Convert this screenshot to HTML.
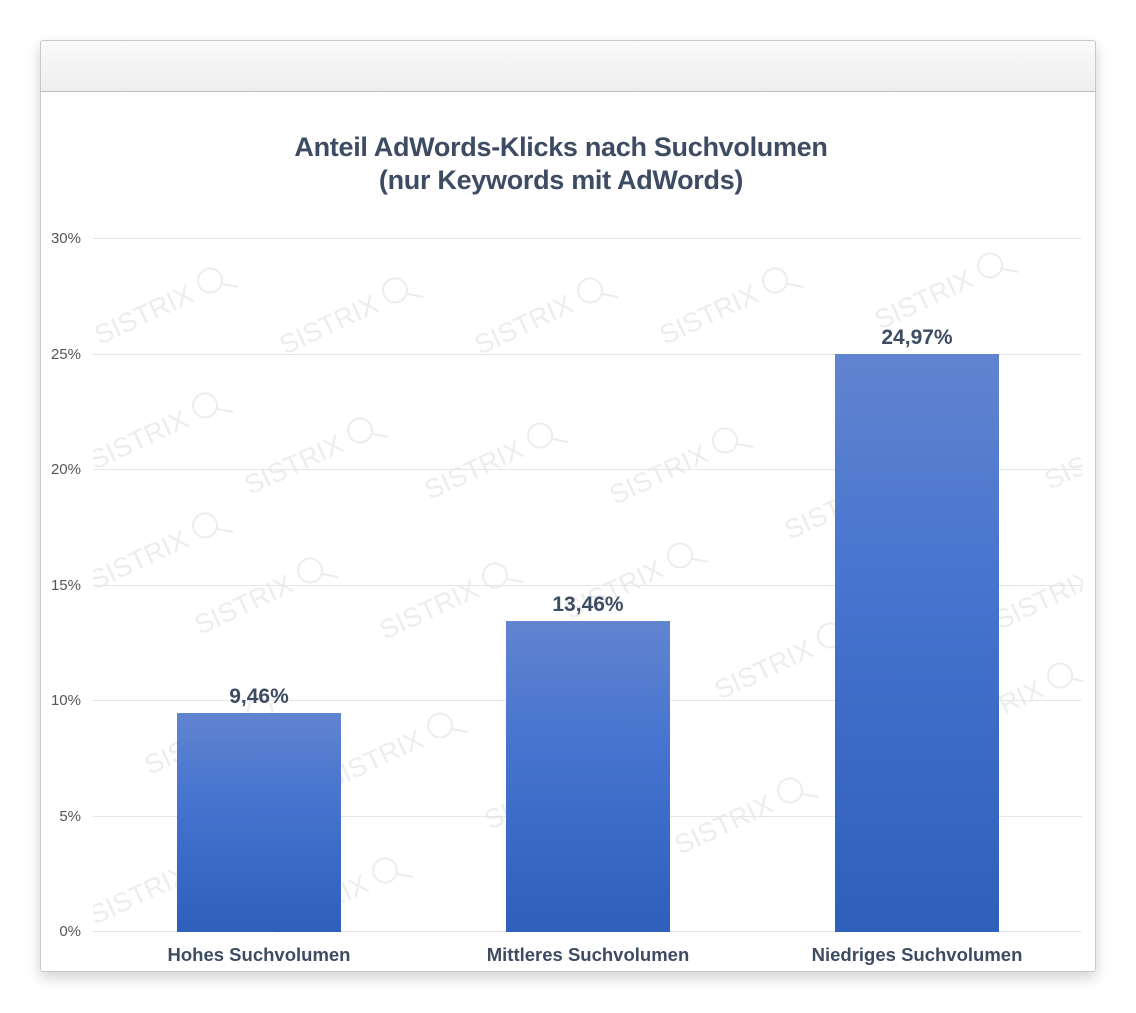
<!DOCTYPE html>
<html><head><meta charset="utf-8"><style>
body{margin:0;width:1136px;height:1013px;background:#fff;font-family:"Liberation Sans",Arial,sans-serif;}
.card{position:absolute;left:40px;top:40px;width:1054px;height:930px;border:1px solid #c8c8c8;border-radius:3px;box-shadow:0 6px 14px rgba(0,0,0,0.18);background:#fff;overflow:hidden}
.hdr{height:50px;border-bottom:1px solid #bdbdbd;background:linear-gradient(#fafafa,#eeeeee)}
svg{position:absolute;left:0;top:0}
</style></head><body>
<div class="card"><div class="hdr"></div></div>
<svg width="1136" height="1013" font-family="Liberation Sans, Arial, sans-serif">
<defs>
<linearGradient id="g" x1="0" y1="0" x2="0" y2="1"><stop offset="0" stop-color="#6184cf"/><stop offset="0.4" stop-color="#4674cf"/><stop offset="1" stop-color="#2d5fbb"/></linearGradient>
<clipPath id="c"><rect x="93" y="230" width="990" height="710"/></clipPath>
<g id="w"><text font-size="27" fill="#ededed">SISTRIX</text><circle cx="127" cy="-12" r="12" fill="none" stroke="#ededed" stroke-width="2"/><line x1="136" y1="-4" x2="150" y2="6" stroke="#ededed" stroke-width="2"/></g>
</defs>
<g clip-path="url(#c)" id="wm"></g>
<text x="561" y="156" text-anchor="middle" font-size="27" font-weight="bold" fill="#3d4c63" letter-spacing="-0.3">Anteil AdWords-Klicks nach Suchvolumen</text>
<text x="561" y="189" text-anchor="middle" font-size="27" font-weight="bold" fill="#3d4c63" letter-spacing="-0.3">(nur Keywords mit AdWords)</text>
<g stroke="#e4e6ea" stroke-width="1">
<line x1="93" y1="238.5" x2="1082" y2="238.5"/><line x1="93" y1="354.5" x2="1082" y2="354.5"/><line x1="93" y1="469.5" x2="1082" y2="469.5"/><line x1="93" y1="585.5" x2="1082" y2="585.5"/><line x1="93" y1="700.5" x2="1082" y2="700.5"/><line x1="93" y1="816.5" x2="1082" y2="816.5"/><line x1="93" y1="931.5" x2="1082" y2="931.5"/>
</g>
<g font-size="15" fill="#555" text-anchor="end">
<text x="81" y="243">30%</text><text x="81" y="359">25%</text><text x="81" y="474">20%</text><text x="81" y="590">15%</text><text x="81" y="705">10%</text><text x="81" y="821">5%</text><text x="81" y="936">0%</text>
</g>
<rect x="177" y="713" width="164" height="219" fill="url(#g)"/>
<rect x="506" y="621" width="164" height="311" fill="url(#g)"/>
<rect x="835" y="354" width="164" height="578" fill="url(#g)"/>
<g font-size="21" font-weight="bold" fill="#3d4c63" text-anchor="middle">
<text x="259" y="703">9,46%</text><text x="588" y="611">13,46%</text><text x="917" y="344">24,97%</text>
</g>
<g font-size="18.5" font-weight="bold" fill="#3d4c63" text-anchor="middle">
<text x="259" y="961">Hohes Suchvolumen</text><text x="588" y="961">Mittleres Suchvolumen</text><text x="917" y="961">Niedriges Suchvolumen</text>
</g>
</svg>
<script>
var g=document.getElementById('wm'),s='';
var pts=[[100,345],[285,355],[480,355],[665,345],[880,330],[95,470],[250,495],[430,500],[615,505],[790,540],[1050,490],[95,590],[200,635],[385,640],[570,620],[720,700],[1000,630],[150,775],[330,790],[490,830],[680,855],[950,740],[95,925],[275,935]];
pts.forEach(function(p){s+='<use href="#w" transform="translate('+p[0]+','+p[1]+') rotate(-25)"/>';});
g.innerHTML=s;
</script>
</body></html>
